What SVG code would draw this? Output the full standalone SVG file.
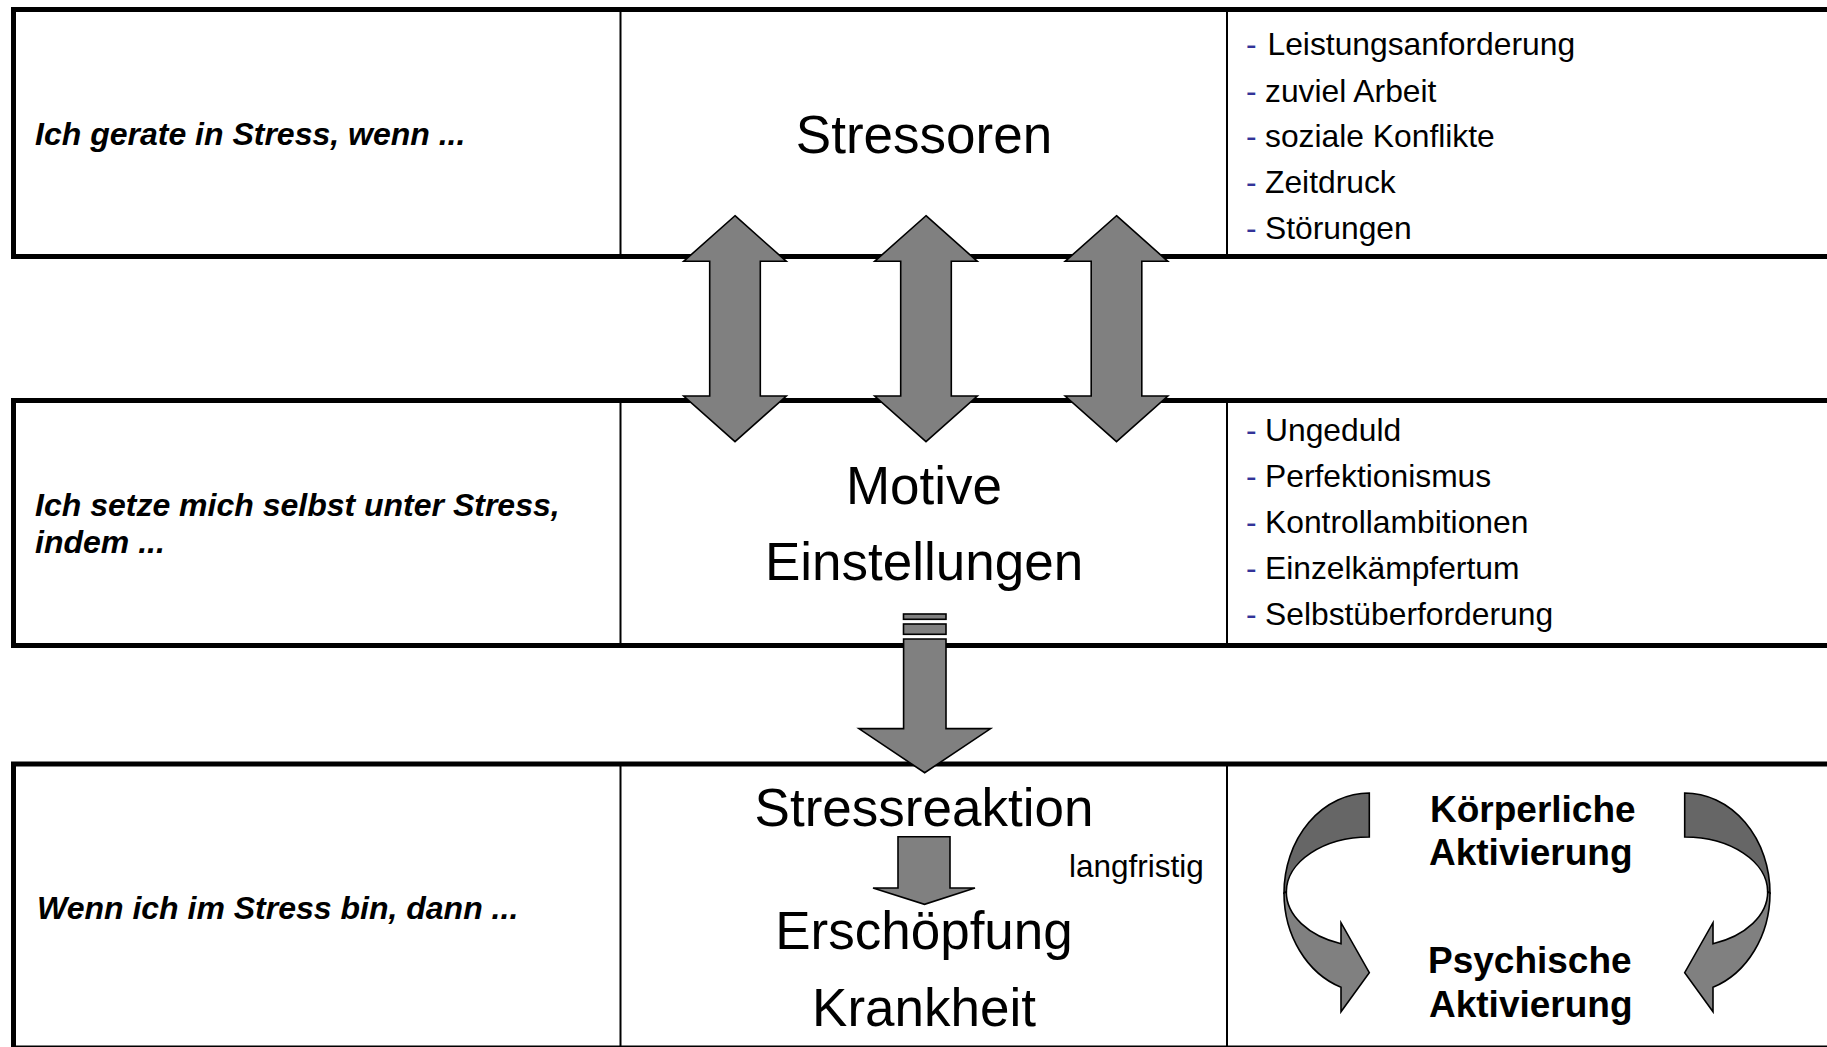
<svg xmlns="http://www.w3.org/2000/svg" width="1827" height="1047" viewBox="0 0 1827 1047">
<style>
.thick{stroke:#000;stroke-width:5;fill:none;stroke-linecap:square}
.thin{stroke:#000;stroke-width:2;fill:none}
.q{font-family:"Liberation Sans",Arial,sans-serif;font-size:32px;font-weight:bold;font-style:italic;fill:#000}
.big{font-family:"Liberation Sans",Arial,sans-serif;font-size:53px;fill:#000;text-anchor:middle}
.li{font-family:"Liberation Sans",Arial,sans-serif;font-size:31.8px;fill:#000}
.dash{fill:#333399}
.bold{font-family:"Liberation Sans",Arial,sans-serif;font-size:37px;font-weight:bold;fill:#000}
.small{font-family:"Liberation Sans",Arial,sans-serif;font-size:31.5px;fill:#000}
.arr{fill:#808080;stroke:#000;stroke-width:1.6;stroke-linejoin:miter}
.arrd{fill:#666666;stroke:#000;stroke-width:1.6}
</style>
<defs>
<path id="dbl" d="M0,215.7 L51.3,261.3 L25.3,261.3 L25.3,396 L51.3,396 L0,441.7 L-51.3,396 L-25.3,396 L-25.3,261.3 L-51.3,261.3 Z"/>
<g id="curl">
<path class="arrd" d="M1369.3,793 A85.3,100 0 0 0 1284,893 L1286.3,892 A83,55 0 0 1 1369.3,837 Z"/>
<path class="arr" d="M1284,893 A85.3,100 0 0 0 1341,987.3 L1341,1011.7 L1369.3,972.7 L1341,922.7 L1341,943.7 A83,55 0 0 1 1286.3,892 Z"/>
</g>
</defs>
<rect width="1827" height="1047" fill="#fff"/>

<g id="row-stressoren">
<path class="thick" d="M1830,9.5 H13.5 V256.5 H1830"/>
<path class="thin" d="M620.5,9.5 V256.5 M1227,9.5 V256.5"/>
<text class="q" x="35" y="145">Ich gerate in Stress, wenn ...</text>
<text class="big" x="924" y="153">Stressoren</text>
<g id="list-stressoren">
<text class="li dash" x="1246" y="55">-</text><text class="li" x="1267.5" y="55">Leistungsanforderung</text>
<text class="li dash" x="1246" y="101.5">-</text><text class="li" x="1265" y="101.5">zuviel Arbeit</text>
<text class="li dash" x="1246" y="147">-</text><text class="li" x="1265" y="147">soziale Konflikte</text>
<text class="li dash" x="1246" y="193">-</text><text class="li" x="1265" y="193">Zeitdruck</text>
<text class="li dash" x="1246" y="239">-</text><text class="li" x="1265" y="239">Störungen</text>
</g>
</g>

<g id="row-motive">
<path class="thick" d="M1830,400.5 H13.5 V645.5 H1830"/>
<path class="thin" d="M620.5,400.5 V645.5 M1227,400.5 V645.5"/>
<text class="q" x="35" y="516">Ich setze mich selbst unter Stress,</text>
<text class="q" x="35" y="553">indem ...</text>
<text class="big" x="924" y="504">Motive</text>
<text class="big" x="924" y="580">Einstellungen</text>
<g id="list-motive">
<text class="li dash" x="1246" y="441">-</text><text class="li" x="1265" y="441">Ungeduld</text>
<text class="li dash" x="1246" y="487">-</text><text class="li" x="1265" y="487">Perfektionismus</text>
<text class="li dash" x="1246" y="533">-</text><text class="li" x="1265" y="533">Kontrollambitionen</text>
<text class="li dash" x="1246" y="579">-</text><text class="li" x="1265" y="579">Einzelkämpfertum</text>
<text class="li dash" x="1246" y="625">-</text><text class="li" x="1265" y="625">Selbstüberforderung</text>
</g>
</g>

<g id="row-reaktion">
<path class="thick" d="M1830,764 H13.5 V1048 H1830"/>
<path class="thin" d="M620.5,764 V1048 M1227,764 V1048"/>
<text class="q" x="37" y="919">Wenn ich im Stress bin, dann ...</text>
<text class="big" x="924" y="826">Stressreaktion</text>
<text class="big" x="924" y="948.5">Erschöpfung</text>
<text class="big" x="924" y="1025.5">Krankheit</text>
<text class="small" x="1069" y="877">langfristig</text>
<g id="aktivierung">
<text class="bold" x="1430" y="821.5">Körperliche</text>
<text class="bold" x="1429" y="865">Aktivierung</text>
<text class="bold" x="1428" y="973">Psychische</text>
<text class="bold" x="1429" y="1016.5">Aktivierung</text>
</g>
</g>

<g id="connectors">
<use href="#dbl" class="arr" transform="translate(735,0)"/>
<use href="#dbl" class="arr" transform="translate(926,0)"/>
<use href="#dbl" class="arr" transform="translate(1116.5,0)"/>
<rect class="arr" x="903.5" y="614" width="42.5" height="5.3"/>
<rect class="arr" x="903.5" y="624" width="42.5" height="10.3"/>
<path class="arr" d="M903.6,639 L946,639 L946,728.6 L990.6,728.6 L924.7,772.7 L858.9,728.6 L903.6,728.6 Z"/>
<path class="arr" d="M898,836.7 L950,836.7 L950,888 L975,888 L924.5,904.3 L873,888 L898,888 Z"/>
<use href="#curl"/>
<use href="#curl" transform="translate(3054,0) scale(-1,1)"/>
</g>
</svg>
